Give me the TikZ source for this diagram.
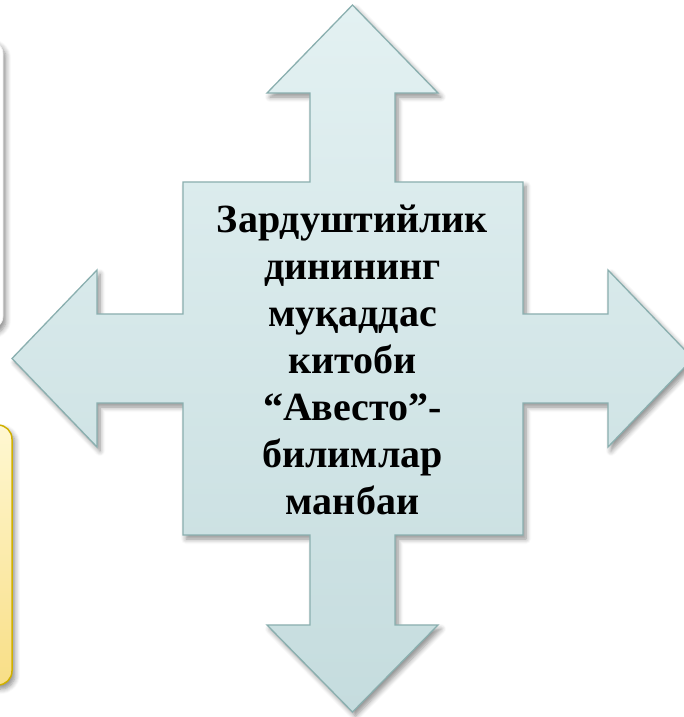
\documentclass[tikz,border=0pt]{standalone}
\usepackage{fontspec}
\setmainfont{Liberation Serif}
\usetikzlibrary{shadows.blur}
\definecolor{arrowtop}{HTML}{E3F1F2}
\definecolor{arrowbot}{HTML}{C5DCDE}
\definecolor{arrowline}{HTML}{8AAFAF}
\definecolor{yeltop}{HTML}{FFF8D2}
\definecolor{yelbot}{HTML}{F8DE86}
\definecolor{yelline}{HTML}{D0B000}
\tikzset{
  softshadow/.style={blur shadow={shadow xshift=3pt, shadow yshift=-4pt, shadow blur steps=6, shadow blur radius=5pt, shadow opacity=45}},
  quadarrow/.style={draw=arrowline, line width=1.3pt, top color=arrowtop, bottom color=arrowbot, softshadow},
  yelbox/.style={draw=yelline, line width=1.5pt, top color=yeltop, bottom color=yelbot, rounded corners=14pt, softshadow},
  whitebox/.style={draw=gray!12, line width=0.8pt, fill=white, rounded corners=14pt, softshadow},
  maintext/.style={font=\bfseries\fontsize{40}{47}\selectfont, align=center, text=black}
}
\begin{document}
\begin{tikzpicture}[x=1pt,y=-1pt]
\useasboundingbox (0,0) rectangle (683,717);
% partial boxes on the left
\path[whitebox] (-200,40) rectangle (3,330);
\path[yelbox] (-200,425) rectangle (12,685);
% four-way arrow
\path[quadarrow] (352.5,5) -- (438,93) -- (395,93) -- (395,182) -- (523,182) -- (523,314)
  -- (608,314) -- (608,270) -- (693,358.5) -- (608,447) -- (608,403) -- (523,403)
  -- (523,535) -- (395,535) -- (395,625) -- (438,625) -- (352.5,712) -- (267,625)
  -- (310,625) -- (310,535) -- (183,535) -- (183,403) -- (97,403) -- (97,447)
  -- (12,358.5) -- (97,270) -- (97,314) -- (183,314) -- (183,182) -- (310,182)
  -- (310,93) -- (267,93) -- cycle;
\node[maintext] (title) at (352.5,360) {Зардуштийлик\\динининг\\муқаддас\\китоби\\“Авесто”-\\билимлар\\манбаи};
\end{tikzpicture}
\end{document}
